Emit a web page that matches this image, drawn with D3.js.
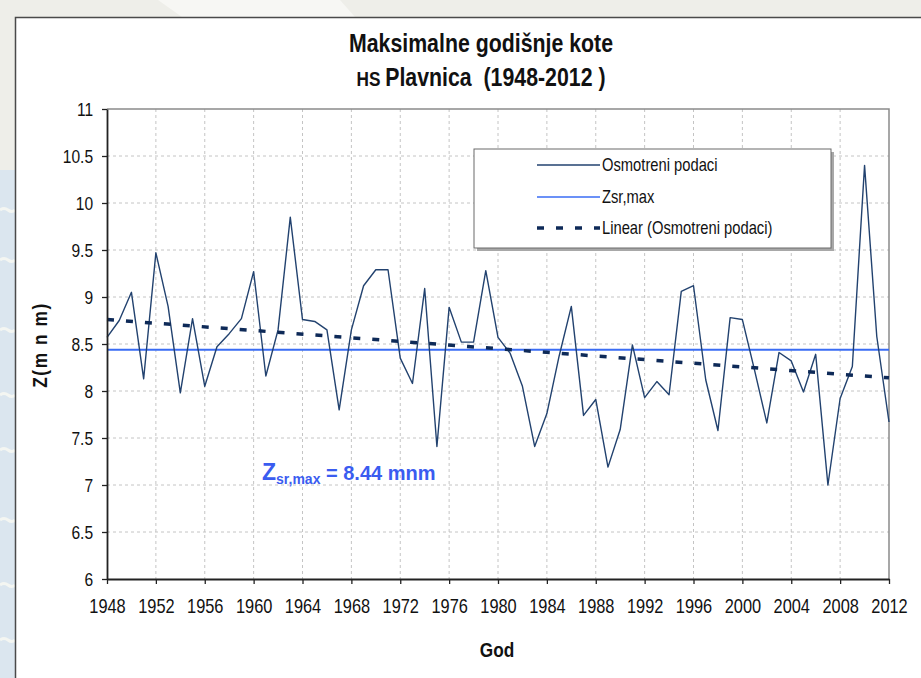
<!DOCTYPE html>
<html>
<head>
<meta charset="utf-8">
<script src="https://cdn.jsdelivr.net/npm/d3@7"></script>
<style>
body { margin: 0; background: #eeeee9; }
svg { display: block; }
</style>
</head>
<body>
<script>
// godine i maksimalne godisnje kote (procitano sa slike)
var years = d3.range(1948, 2013);
var values = [8.57, 8.75, 9.05, 8.13, 9.47, 8.90, 7.98, 8.77, 8.05, 8.47,
              8.61, 8.77, 9.27, 8.16, 8.65, 9.85, 8.76, 8.74, 8.65, 7.80,
              8.65, 9.12, 9.29, 9.29, 8.35, 8.08, 9.09, 7.41, 8.89, 8.52,
              8.52, 9.28, 8.57, 8.40, 8.05, 7.41, 7.76, 8.37, 8.90, 7.74,
              7.91, 7.19, 7.59, 8.49, 7.93, 8.10, 7.96, 9.06, 9.12, 8.12,
              7.58, 8.78, 8.76, 8.22, 7.66, 8.41, 8.32, 7.99, 8.39, 7.00,
              7.92, 8.26, 10.40, 8.58, 7.67];
var trendYears = [1948, 2012];
var trendValues = [8.76, 8.14];
var meanValue = 8.44;
var yTicks = [6, 6.5, 7, 7.5, 8, 8.5, 9, 9.5, 10, 10.5, 11];
var xTicks = [1948, 1952, 1956, 1960, 1964, 1968, 1972, 1976, 1980, 1984, 1988, 1992, 1996, 2000, 2004, 2008, 2012];
var legendLabels = ["Osmotreni podaci", "Zsr,max", "Linear (Osmotreni podaci)"];

var w = 921, h = 678;
var pLeft = 107, pRight = 889, pTop = 109, pBottom = 579;
var font = "'Liberation Sans', Arial, sans-serif";
var squeeze = 0.82;   // uzi font kao Arial Narrow
var darkLine = "#22426f";
var meanColor = "#3a6cf4";
var trendColor = "#0e2a58";

var svg = d3.select("body").append("svg")
    .attr("width", w)
    .attr("height", h);

// tekst sa suzenim slovima
function narrowText(x, y, size, bold) {
    return svg.append("text")
        .attr("transform", "translate(" + x + "," + y + ") scale(" + squeeze + ",1)")
        .attr("font-family", font)
        .attr("font-size", size)
        .attr("font-weight", bold ? "bold" : "normal")
        .attr("fill", "#111");
}

// pozadina stranice
svg.append("rect").attr("width", w).attr("height", h).attr("fill", "#eeeee9");
svg.append("path")
    .attr("d", "M158,0 L340,0 L355,17 L182,17 Z")
    .attr("fill", "#f7f7f4");
svg.append("rect").attr("x", 0).attr("y", 170).attr("width", 15).attr("height", h - 170)
    .attr("fill", "#dbe6ef");
[210, 260, 330, 395, 450, 520, 585, 640].forEach(function (yy) {
    svg.append("path")
        .attr("d", "M0," + yy + " q4,-3 8,0 t7,0")
        .attr("fill", "none")
        .attr("stroke", "#f4f6f2")
        .attr("stroke-width", 3);
});
svg.append("rect")
    .attr("x", 15.5).attr("y", 17.5)
    .attr("width", w).attr("height", h)
    .attr("fill", "#ffffff")
    .attr("stroke", "#4a4a4a")
    .attr("stroke-width", 1.5);

var xScale = d3.scaleLinear().domain([1948, 2012]).range([pLeft, pRight]);
var yScale = d3.scaleLinear().domain([6, 11]).range([pBottom, pTop]);

// mreza
svg.append("g").selectAll("line")
    .data(yTicks.slice(1, -1))
    .enter().append("line")
    .attr("x1", pLeft).attr("x2", pRight)
    .attr("y1", function (d) { return yScale(d); })
    .attr("y2", function (d) { return yScale(d); })
    .attr("stroke", "#c4c4c4")
    .attr("stroke-dasharray", "3,3");

svg.append("g").selectAll("line")
    .data(xTicks.slice(1, -1))
    .enter().append("line")
    .attr("y1", pTop).attr("y2", pBottom)
    .attr("x1", function (d) { return xScale(d); })
    .attr("x2", function (d) { return xScale(d); })
    .attr("stroke", "#c4c4c4")
    .attr("stroke-dasharray", "3,3");

// okvir (gore i desno)
svg.append("path")
    .attr("d", "M" + pLeft + "," + pTop + "H" + pRight + "V" + pBottom)
    .attr("fill", "none")
    .attr("stroke", "#8a8a8a")
    .attr("stroke-width", 1.5);

// srednja vrijednost
svg.append("line")
    .attr("x1", pLeft).attr("x2", pRight)
    .attr("y1", yScale(meanValue)).attr("y2", yScale(meanValue))
    .attr("stroke", meanColor)
    .attr("stroke-width", 2);

// osmotreni podaci
var line = d3.line()
    .x(function (d, i) { return xScale(years[i]); })
    .y(function (d) { return yScale(d); });

svg.append("path")
    .datum(values)
    .attr("d", line)
    .attr("fill", "none")
    .attr("stroke", darkLine)
    .attr("stroke-width", 1.4)
    .attr("stroke-linejoin", "round");

// linearni trend
svg.append("line")
    .attr("x1", xScale(trendYears[0])).attr("y1", yScale(trendValues[0]))
    .attr("x2", xScale(trendYears[1])).attr("y2", yScale(trendValues[1]))
    .attr("stroke", trendColor)
    .attr("stroke-width", 3.5)
    .attr("stroke-dasharray", "7,12");

// legenda
var lx = 474, ly = 149, lw = 357, lh = 99;
svg.append("rect")
    .attr("x", lx + 3).attr("y", ly + 3).attr("width", lw).attr("height", lh)
    .attr("fill", "#a8a8a8");
svg.append("rect")
    .attr("x", lx).attr("y", ly).attr("width", lw).attr("height", lh)
    .attr("fill", "#ffffff")
    .attr("stroke", "#6a6a6a")
    .attr("stroke-width", 1);

var legRows = [165, 197, 228];
var legStyles = [
    {color: darkLine, width: 1.6, dash: null},
    {color: meanColor, width: 1.6, dash: null},
    {color: trendColor, width: 3.5, dash: "7,12"}
];
legendLabels.forEach(function (t, i) {
    svg.append("line")
        .attr("x1", 537).attr("x2", 600)
        .attr("y1", legRows[i]).attr("y2", legRows[i])
        .attr("stroke", legStyles[i].color)
        .attr("stroke-width", legStyles[i].width)
        .attr("stroke-dasharray", legStyles[i].dash);
    narrowText(602, legRows[i] + 6, 18, false).text(t);
});

// ose
var yAxis = d3.axisLeft(yScale)
    .tickValues(yTicks)
    .tickSize(5)
    .tickSizeOuter(0)
    .tickPadding(12)
    .tickFormat(function (d) { return String(d); });
var gy = svg.append("g")
    .attr("transform", "translate(" + pLeft + ",0)")
    .call(yAxis);

var xAxis = d3.axisBottom(xScale)
    .tickValues(xTicks)
    .tickSize(5)
    .tickSizeOuter(0)
    .tickPadding(15)
    .tickFormat(d3.format("d"));
var gx = svg.append("g")
    .attr("transform", "translate(0," + pBottom + ")")
    .call(xAxis);

[gx, gy].forEach(function (g) {
    g.select(".domain").attr("stroke", "#222").attr("stroke-width", 1.8);
    g.selectAll(".tick line").attr("stroke", "#222").attr("stroke-width", 1.3);
    g.selectAll("text")
        .attr("font-family", font)
        .attr("fill", "#111")
        .attr("transform", "scale(" + squeeze + ",1)");
});
gx.selectAll("text").attr("font-size", 20);
gy.selectAll("text").attr("font-size", 19);

// naslovi
narrowText(481, 52, 26, true)
    .attr("text-anchor", "middle")
    .text("Maksimalne godišnje kote");

var t2 = narrowText(481, 86, 26, true)
    .attr("text-anchor", "middle");
t2.append("tspan").attr("font-size", 21).text("HS ");
t2.append("tspan").text("Plavnica\u00a0\u00a0(1948-2012 )");

narrowText(497, 657, 21, true)
    .attr("text-anchor", "middle")
    .text("God");

svg.append("text")
    .attr("transform", "translate(47,345) rotate(-90) scale(" + squeeze + ",1)")
    .attr("text-anchor", "middle")
    .attr("font-family", font)
    .attr("font-weight", "bold")
    .attr("font-size", 21)
    .attr("letter-spacing", 2)
    .attr("fill", "#111")
    .text("Z(m n m)");

// oznaka srednje vrijednosti
var ann = svg.append("text")
    .attr("x", 262).attr("y", 480)
    .attr("font-family", font)
    .attr("font-weight", "bold")
    .attr("fill", "#3a5cf0");
ann.append("tspan").attr("font-size", 23).text("Z");
ann.append("tspan").attr("font-size", 14).attr("dy", 4).text("sr,max");
ann.append("tspan").attr("font-size", 20).attr("dy", -4).text(" = 8.44 mnm");
</script>
</body>
</html>
